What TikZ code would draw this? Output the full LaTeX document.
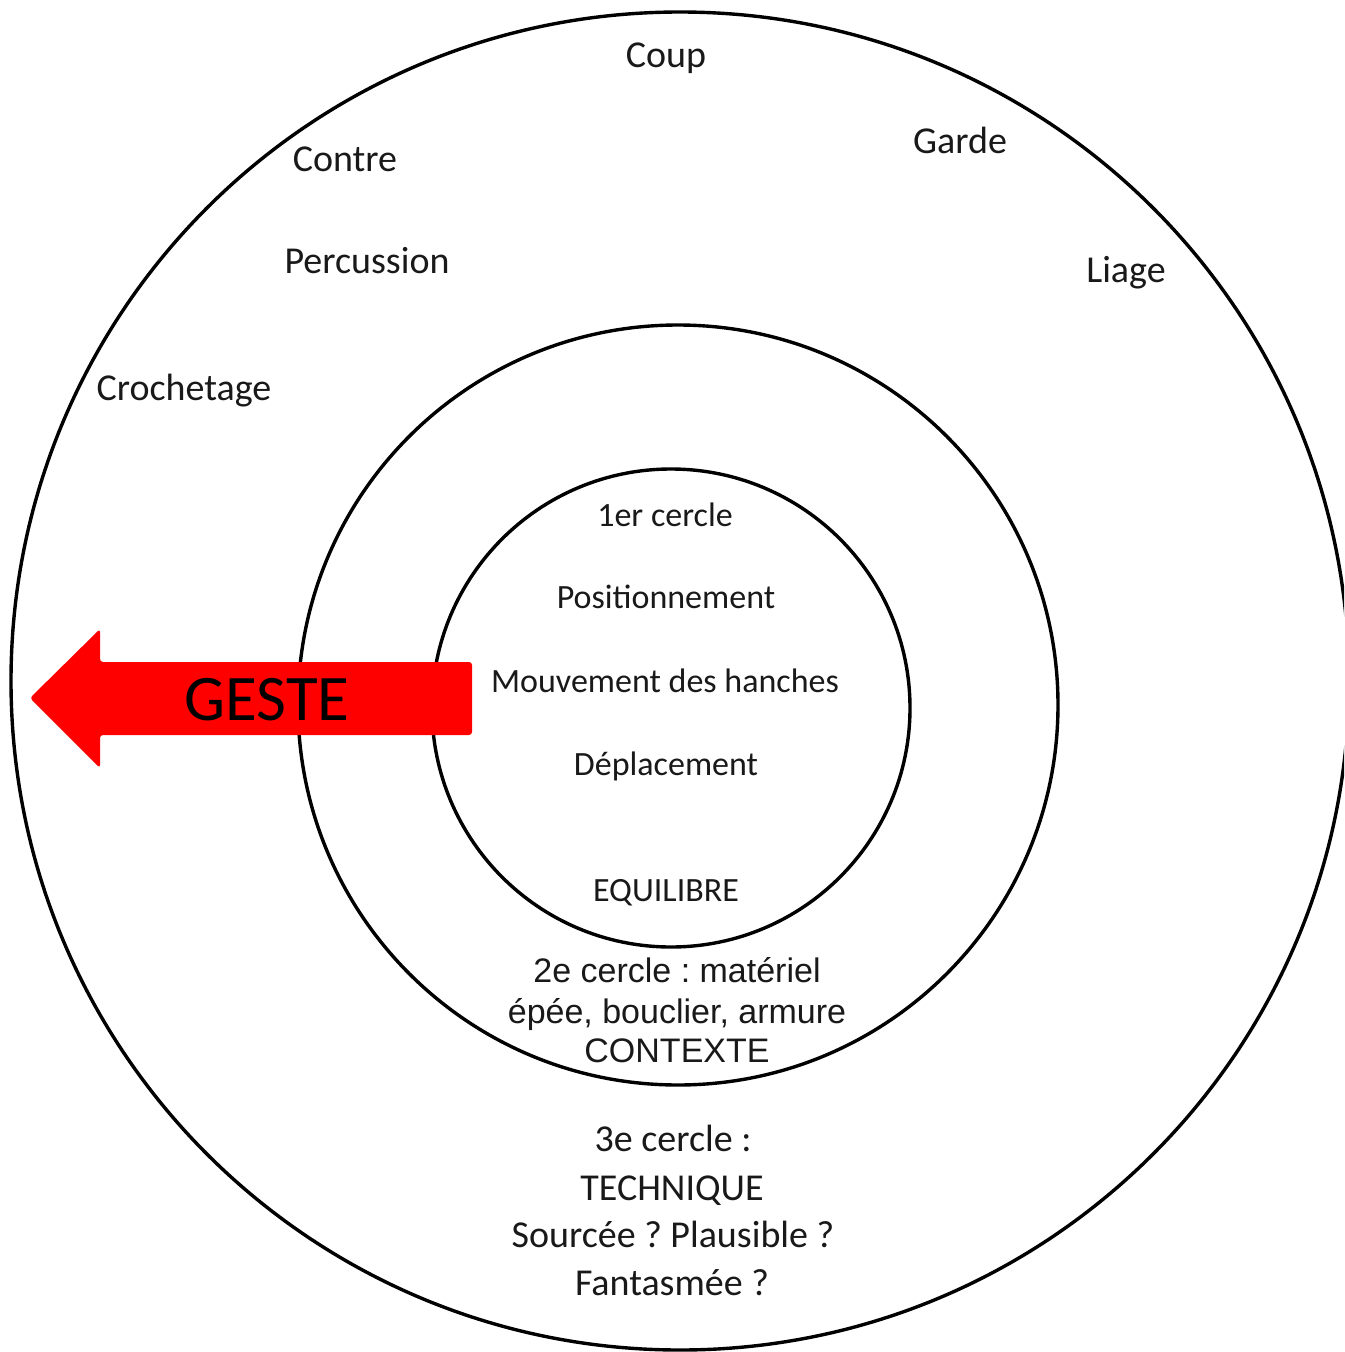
\documentclass[tikz,border=0pt]{standalone}
\usepackage{fontspec}
\setmainfont{Carlito}
\newfontfamily\arialf{Liberation Sans}
\frenchspacing
\begin{document}
\begin{tikzpicture}[x=1pt,y=-1pt,
  ring/.style={draw=black,line width=3.4pt},
  lbl/.style={anchor=base,inner sep=0pt,text=black!90,font=\frenchspacing\fontsize{38}{40}\selectfont},
  ilbl/.style={anchor=base,inner sep=0pt,text=black!90,font=\frenchspacing\fontsize{34}{36}\selectfont},
  albl/.style={anchor=base,inner sep=0pt,text=black!90,font=\frenchspacing\arialf\fontsize{34}{36}\selectfont}]
\useasboundingbox (0,0) rectangle (1344,1352);
\clip (0,0) rectangle (1344,1352);
\fill[white] (0,0) rectangle (1344,1352);
% circles
\node[ring,circle,minimum size=1338pt,inner sep=0pt] (outer) at (680,681) {};
\node[ring,circle,minimum size=760pt,inner sep=0pt] (middle) at (678,705) {};
\node[ring,circle,minimum size=478pt,inner sep=0pt] (inner) at (671,708) {};
% arrow
\fill[red,rounded corners=3pt] (30,698) -- (100,629) -- (100,662) -- (472,662) -- (472,735) -- (100,735) -- (100,768) -- cycle;
\node[anchor=base,inner sep=0pt,text=black,font=\fontsize{65}{66}\selectfont] (geste) at (267,720) {GESTE};
% outer ring labels
\node[lbl] (coup) at (666,67) {Coup};
\node[lbl] (garde) at (960,153) {Garde};
\node[lbl] (liage) at (1126,282) {Liage};
\node[lbl] (contre) at (345,171) {Contre};
\node[lbl] (percussion) at (367,273) {Percussion};
\node[lbl] (crochetage) at (184,400) {Crochetage};
% inner circle
\node[ilbl] (c1) at (665,526) {1er cercle};
\node[ilbl] (pos) at (666,608) {Positionnement};
\node[ilbl] (mouv) at (665,692) {Mouvement des hanches};
\node[ilbl] (depl) at (666,775) {Déplacement};
\node[ilbl] (equi) at (666,901) {EQUILIBRE};
% second circle
\node[albl] (c2a) at (677,982) {2e cercle : matériel};
\node[albl] (c2b) at (677,1023) {épée, bouclier, armure};
\node[albl] (c2c) at (677,1062) {CONTEXTE};
% third circle
\node[lbl] (c3a) at (673,1151) {3e cercle :};
\node[lbl] (c3b) at (672,1200) {TECHNIQUE};
\node[lbl] (c3c) at (673,1247) {Sourcée ? Plausible ?};
\node[lbl] (c3d) at (672,1295) {Fantasmée ?};
\end{tikzpicture}
\end{document}
